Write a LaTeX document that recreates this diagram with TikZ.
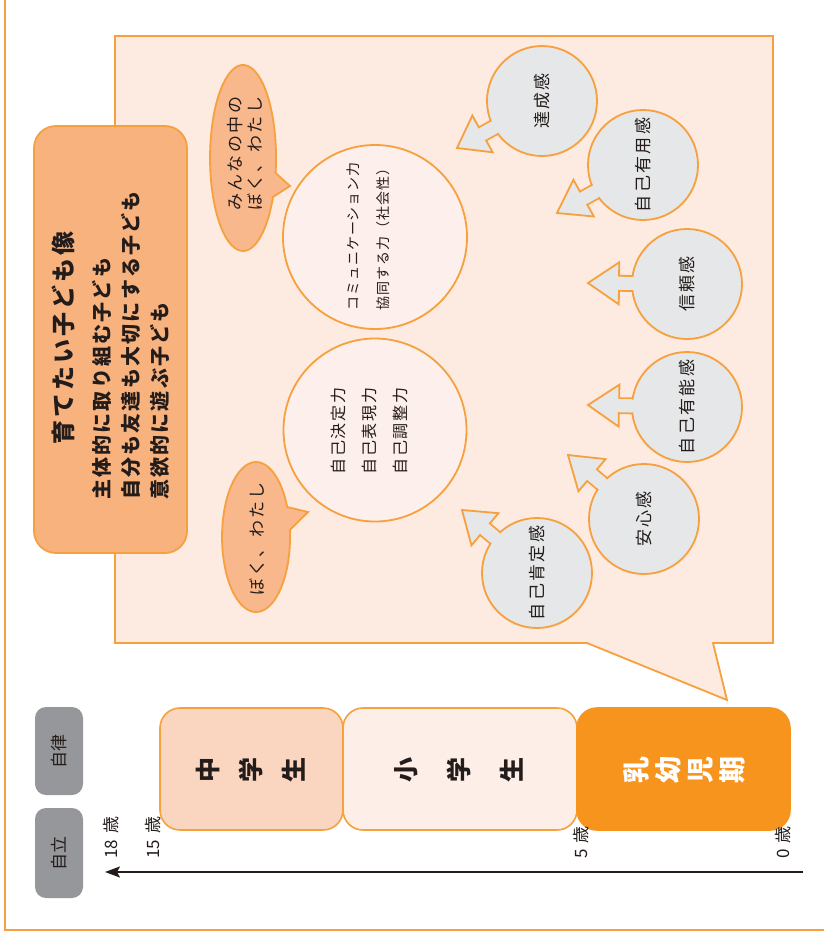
\documentclass[tikz,border=0pt]{standalone}
\usepackage{fontspec}
\usetikzlibrary{calc,arrows.meta}
\newfontfamily\jp{Noto Sans CJK JP}
\definecolor{oline}{RGB}{246,160,62}
\definecolor{panelfill}{RGB}{253,234,224}
\definecolor{hdrfill}{RGB}{248,178,126}
\definecolor{bubfill}{RGB}{248,184,140}
\definecolor{whfill}{RGB}{253,240,236}
\definecolor{grayc}{RGB}{230,231,232}
\definecolor{pillgray}{RGB}{150,151,154}
\definecolor{midfill}{RGB}{250,214,193}
\definecolor{elemfill}{RGB}{253,238,232}
\definecolor{infill}{RGB}{247,148,30}
\definecolor{ink}{RGB}{35,28,26}
\newcommand\fs[3]{\fontsize{#1}{#2}\selectfont\jp\addfontfeatures{LetterSpace=#3}}
\newcommand\fsb[3]{\fontsize{#1}{#2}\selectfont\jp\bfseries\addfontfeatures{LetterSpace=#3}}
\tikzset{
  frameline/.style={draw=oline, line width=1.4pt},
  panel/.style={draw=oline, fill=panelfill, line width=1.8pt, line join=miter},
  hdrbox/.style={draw=oline, fill=hdrfill, line width=1.8pt, rounded corners=22pt, inner sep=0pt},
  bubble/.style={draw=oline, fill=bubfill, line width=1.8pt},
  whcircle/.style={circle, draw=oline, fill=whfill, line width=1.8pt, inner sep=0pt},
  feelcircle/.style={circle, draw=oline, fill=grayc, line width=1.8pt, inner sep=0pt, minimum size=110pt},
  arrowshape/.style={draw=oline, fill=grayc, line width=1.8pt, line join=miter},
  vtext/.style={rotate=90, inner sep=0pt, text=ink},
  agelabel/.style={vtext, anchor=west, font=\fs{17}{18}{0}},
  stagebox/.style={draw=oline, line width=1.6pt, rounded corners=20pt, inner sep=0pt, minimum height=122pt},
  pill/.style={fill=pillgray, rounded corners=11pt, inner sep=0pt, minimum width=48pt},
}
\newcommand\feel[4]{%
  \coordinate (#1c) at #2;
  \coordinate (#1t) at #3;
  \path ($(#1c)!40pt!(#1t)$) coordinate (#1s) ($(#1c)!68pt!(#1t)$) coordinate (#1h);
  \draw[arrowshape] ($(#1s)!7.5pt!90:(#1t)$) -- ($(#1h)!7.5pt!90:(#1t)$) -- ($(#1h)!21pt!90:(#1t)$) -- (#1t) -- ($(#1h)!21pt!-90:(#1t)$) -- ($(#1h)!7.5pt!-90:(#1t)$) -- ($(#1s)!7.5pt!-90:(#1t)$) -- cycle;
  \node[feelcircle] (#1) at (#1c) {};
  \fill[grayc] ($(#1s)!6.4pt!90:(#1t)$) -- ($(#1h)!6.4pt!90:(#1t)$) -- ($(#1h)!6.4pt!-90:(#1t)$) -- ($(#1s)!6.4pt!-90:(#1t)$) -- cycle;
  \node[vtext, font=\fs{17}{18}{14}] (#1txt) at (#1c) {#4};
}
\begin{document}
\begin{tikzpicture}[x=1pt,y=-1pt]
\useasboundingbox (0,0) rectangle (823,938);
\fill[white] (0,0) rectangle (823,938);
\draw[frameline] (5,-2) -- (5,930) -- (825,930);

% callout panel
\draw[panel] (115,36) -- (773,36) -- (773,643) -- (713,643) -- (727,700) -- (587,643) -- (115,643) -- cycle;

% header box
\node[hdrbox, minimum width=153pt, minimum height=427pt] (hdr) at (110.5,339.5) {};
\node[vtext, font=\fsb{24}{28}{12}] (title) at (63,338) {育てたい子ども像};
\node[vtext, anchor=west, align=left, font=\fsb{20}{29}{11}] (goals) at (131,500) {主体的に取り組む子ども\\自分も友達も大切にする子ども\\意欲的に遊ぶ子ども};

% speech bubbles
\draw[bubble] (275.6,173) arc[start angle=-9.3, end angle=335.2, x radius=33pt, y radius=93pt] -- (290,186) -- cycle;
\node[vtext, anchor=west, align=left, font=\fs{17}{20}{14}] (bub1) at (245,211) {みんなの中の\\ぼく、わたし};
\draw[bubble] (287.2,507) arc[start angle=23.6, end angle=365.4, x radius=34pt, y radius=75pt] -- (308,512) -- cycle;
\node[vtext, font=\fs{17}{20}{14}] (bub2) at (257,539) {ぼく、わたし};

% central circles
\node[whcircle, minimum size=184pt] (circA) at (375,237) {};
\node[vtext, anchor=west, align=left, font=\fs{14}{30}{7}] (txtA) at (368,311) {コミュニケーション力\\協同する力（社会性）};
\node[whcircle, minimum size=183pt] (circB) at (375,430) {};
\node[vtext, align=left, font=\fs{16}{31}{12}] (txtB) at (369,431) {自己決定力\\自己表現力\\自己調整力};

% feelings
\feel{fA}{(542,101)}{(457,148)}{達成感}
\feel{fB}{(643,165)}{(557,213)}{自己有用感}
\feel{fC}{(687,284)}{(588,283)}{信頼感}
\feel{fD}{(687,407)}{(588,405)}{自己有能感}
\feel{fE}{(644,519)}{(568,455)}{安心感}
\feel{fF}{(537,573)}{(462,510)}{自己肯定感}

% stage boxes
\node[stagebox, fill=midfill, minimum width=183pt] (mid) at (251.5,769) {};
\node[stagebox, fill=elemfill, minimum width=234pt] (elem) at (460,769) {};
\node[stagebox, fill=infill, draw=infill, minimum width=213pt] (inf) at (683.5,769) {};
\node[vtext, align=center, font=\fsb{25}{43}{0}] (midt) at (251,770) {中\\学\\生};
\node[vtext, align=center, font=\fsb{25}{53}{0}] (elemt) at (459,770) {小\\学\\生};
\node[vtext, align=center, text=white, font=\fsb{27}{32}{0}] (inft) at (684,770) {乳\\幼\\児\\期};

% pills
\node[pill, minimum height=88pt] (p1) at (59,751) {};
\node[vtext, font=\fs{17}{20}{0}] (p1t) at (59,751) {自律};
\node[pill, minimum height=90pt] (p2) at (59,853) {};
\node[vtext, font=\fs{17}{20}{0}] (p2t) at (59,853) {自立};

% age axis
\coordinate (axs) at (803,872);
\coordinate (axe) at (105,872);
\draw[line width=1.3pt, draw=ink, -{Stealth[length=15pt,width=11pt,inset=3pt]}] (axs) -- (axe);
\node[agelabel] (a18) at (111,859) {18\hspace{6pt}歳};
\node[agelabel] (a15) at (153,859) {15\hspace{6pt}歳};
\node[agelabel] (a5) at (581,859) {5\hspace{6pt}歳};
\node[agelabel] (a0) at (783,859) {0\hspace{6pt}歳};
\end{tikzpicture}
\end{document}
